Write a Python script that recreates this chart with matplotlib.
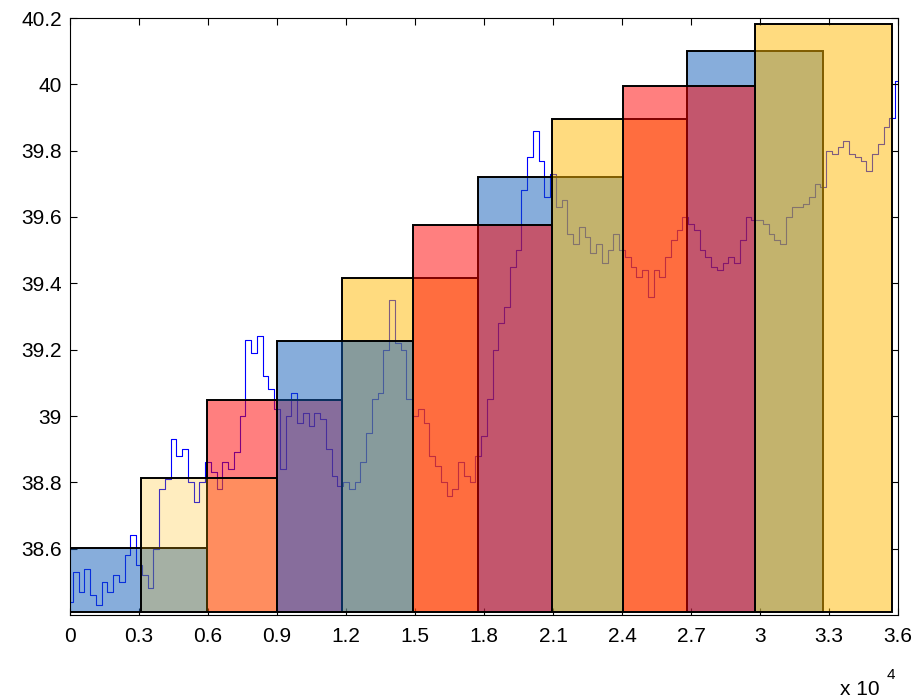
import numpy as np
import matplotlib
matplotlib.use("Agg")
import matplotlib.pyplot as plt

plt.rcParams["font.family"] = ["Liberation Sans", "DejaVu Sans"]

# 折线数据：每 250 个单位取一个值
step = 250
line_y = [
    38.44, 38.53, 38.47, 38.54, 38.46, 38.43, 38.50, 38.47, 38.52, 38.50,
    38.58, 38.64, 38.55, 38.52, 38.48, 38.60, 38.78, 38.81, 38.93, 38.88,
    38.90, 38.80, 38.74, 38.80, 38.86, 38.83, 38.78, 38.86, 38.84, 38.89,
    39.00, 39.23, 39.19, 39.24, 39.12, 39.08, 39.02, 38.84, 39.00, 39.07,
    38.98, 39.01, 38.97, 39.01, 38.99, 38.90, 38.82, 38.79, 38.80, 38.78,
    38.80, 38.86, 38.95, 39.05, 39.07, 39.20, 39.35, 39.22, 39.20, 39.05,
    39.00, 39.02, 38.98, 38.88, 38.85, 38.80, 38.76, 38.78, 38.86, 38.82,
    38.80, 38.88, 38.94, 39.05, 39.20, 39.28, 39.33, 39.45, 39.50, 39.68,
    39.78, 39.86, 39.77, 39.66, 39.73, 39.63, 39.65, 39.55, 39.52, 39.57,
    39.54, 39.49, 39.52, 39.46, 39.50, 39.55, 39.50, 39.48, 39.45, 39.42,
    39.44, 39.36, 39.44, 39.42, 39.48, 39.53, 39.56, 39.60, 39.58, 39.56,
    39.50, 39.48, 39.45, 39.44, 39.46, 39.48, 39.46, 39.53, 39.60, 39.59,
    39.59, 39.58, 39.55, 39.53, 39.52, 39.60, 39.63, 39.63, 39.64, 39.66,
    39.70, 39.69, 39.80, 39.79, 39.81, 39.83, 39.79, 39.78, 39.77, 39.74,
    39.79, 39.82, 39.87, 39.90, 40.01,
]
line_x = np.arange(len(line_y)) * step

# 柱子的边界：第 i 根柱子从 edges[i] 到 edges[i+2]
edges = [0, 3080, 5970, 8990, 11810, 14930, 17750, 20940, 24030, 26840,
         29780, 32730, 35750]
bar_tops = [38.603, 38.813, 39.047, 39.226, 39.417, 39.576, 39.722, 39.894,
            39.994, 40.099, 40.181]
bar_base = 38.41
# 叠放次序（数字大的在上层）
layers = [1, 2, 1, 2, 1, 2, 1, 2, 3, 1, 2]

blue = (17 / 255, 93 / 255, 185 / 255)
yellow = (1.0, 185 / 255, 0.0)
red = (1.0, 0.0, 0.0)
cycle = [blue, yellow, red]

xticks = np.arange(0, 36001, 3000)
yticks = [38.6, 38.8, 39.0, 39.2, 39.4, 39.6, 39.8, 40.0, 40.2]

fig = plt.figure(figsize=(9.17, 6.98), dpi=100)
ax = fig.add_axes([70 / 917, 83 / 698, 828 / 917, 597 / 698])

# 先画折线，柱子盖在上面
ax.plot(line_x, line_y, color="blue", lw=0.8, drawstyle="steps-mid", zorder=1)

for i, top in enumerate(bar_tops):
    left, right = edges[i], edges[i + 2]
    alpha = 0.25 if i == 1 else 0.5
    ax.bar(left, top - bar_base, width=right - left, bottom=bar_base,
           align="edge", facecolor=cycle[i % 3] + (alpha,),
           edgecolor="black", linewidth=1.4, zorder=2 + layers[i])

ax.set_xlim(0, 36000)
ax.set_ylim(38.4, 40.2)
ax.set_xticks(xticks)
ax.set_xticklabels([f"{t / 1e4:g}" for t in xticks])
ax.set_yticks(yticks)
ax.set_yticklabels([f"{t:g}" for t in yticks])
ax.tick_params(direction="in", length=5, width=0.8, top=True, right=True,
               labelsize=15)
ax.tick_params(axis="x", pad=9)
ax.tick_params(axis="y", pad=6)
for s in ax.spines.values():
    s.set_linewidth(0.8)
    s.set_zorder(20)

fig.text(840 / 917, 3 / 698, "x 10", fontsize=15, ha="left", va="baseline")
fig.text(887 / 917, 19 / 698, "4", fontsize=11, ha="left", va="baseline")

fig.savefig("out.png", dpi=100)
